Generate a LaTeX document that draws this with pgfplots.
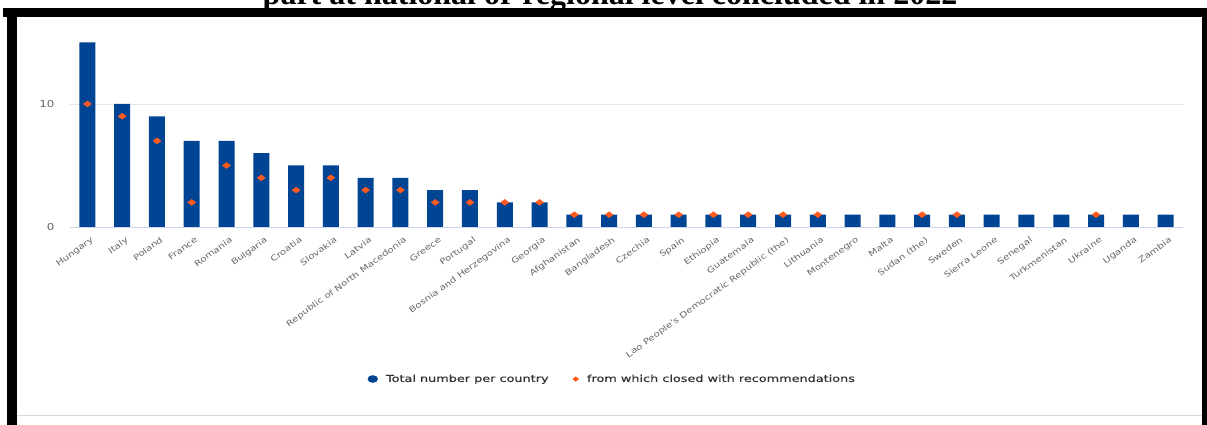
\documentclass[border=0pt]{standalone}
\usepackage{fontspec}
\setmainfont{DejaVu Sans}
\newfontfamily\titlefont{Liberation Serif}
\newfontfamily\widefont[FakeStretch=1.25]{DejaVu Sans}
\newfontfamily\legfont[FakeStretch=1.35,FakeBold=0.6]{DejaVu Sans}
\usepackage{pgfplots}
\usepackage{pgfplotstable}
\pgfplotsset{compat=1.18}
\definecolor{barblue}{HTML}{004494}
\definecolor{dotorange}{HTML}{FF5A1F}
\definecolor{gridgray}{HTML}{E6E6E6}
\definecolor{axisline}{HTML}{CCD6EB}
\definecolor{labgray}{HTML}{666666}
\definecolor{legtext}{HTML}{333333}
\pgfplotstableread{
x total closed
0 15 10
1 10 9
2 9 7
3 7 2
4 7 5
5 6 4
6 5 3
7 5 4
8 4 3
9 4 3
10 3 2
11 3 2
12 2 2
13 2 2
14 1 1
15 1 1
16 1 1
17 1 1
18 1 1
19 1 1
20 1 1
21 1 1
22 1 nan
23 1 nan
24 1 1
25 1 1
26 1 nan
27 1 nan
28 1 nan
29 1 1
30 1 nan
31 1 nan
}\datatable
\begin{document}
\begin{tikzpicture}
\useasboundingbox (0pt,0pt) rectangle (1207pt,425pt);
\fill[white] (0pt,0pt) rectangle (1207pt,425pt);
\node[font=\titlefont\bfseries\fontsize{32}{36}\selectfont, anchor=base] at (610pt,420pt) {part at national or regional level concluded in 2022};
\fill[black] (3pt,408pt) rectangle (1207pt,417pt);
\fill[black] (7pt,0pt) rectangle (17pt,417pt);
\fill[black] (1202pt,0pt) rectangle (1207pt,417pt);
\draw[black!15, line width=1pt] (17pt,9pt) -- (1202pt,9pt);
\begin{axis}[
  at={(70pt,198pt)}, anchor=south west,
  scale only axis, width=1113pt, height=187pt,
  xmin=-0.5, xmax=31.5, ymin=0, ymax=15.2,
  axis x line*=bottom, axis y line*=left,
  x axis line style={axisline, line width=0.8pt, -},
  y axis line style={draw=none},
  ytick={0,10}, ymajorgrids, grid style={gridgray, line width=0.8pt},
  major tick length=0pt,
  xtick={0,...,31},
  xticklabels={Hungary,Italy,Poland,France,Romania,Bulgaria,Croatia,Slovakia,Latvia,Republic of North Macedonia,Greece,Portugal,Bosnia and Herzegovina,Georgia,Afghanistan,Bangladesh,Czechia,Spain,Ethiopia,Guatemala,Lao People's Democratic Republic (the),Lithuania,Montenegro,Malta,Sudan (the),Sweden,Sierra Leone,Senegal,Turkmenistan,Ukraine,Uganda,Zambia},
  xticklabel style={rotate=36, anchor=north east, font=\widefont\fontsize{8.1}{9}\selectfont, text=labgray, inner sep=1pt, yshift=-8pt, xshift=-2pt},
  yticklabel style={font=\widefont\fontsize{9.5}{10}\selectfont, text=labgray, xshift=-12pt},
  /pgf/number format/assume math mode=true,
  legend style={at={(0.4872,-0.813)}, anchor=center, draw=none, fill=none, legend columns=2,
    font=\legfont\fontsize{9.5}{12}\selectfont, text=legtext,
    /tikz/every odd column/.append style={column sep=6pt},
    /tikz/every even column/.append style={column sep=22pt}},
  legend cell align=left,
]
\addplot[ybar, bar width=16pt, fill=barblue, draw=none,
  legend image code/.code={\fill[barblue] (0.2cm,0cm) ellipse [x radius=5.2pt, y radius=3.8pt];}]
  table[x=x, y=total] {\datatable};
\addlegendentry{Total number per country}
\addplot[only marks, mark=diamond*, mark size=4pt, mark options={rotate=90}, color=dotorange,
  legend image code/.code={\fill[dotorange] (0.2cm,0cm) ++(-3pt,0pt) -- ++(3pt,2.3pt) -- ++(3pt,-2.3pt) -- ++(-3pt,-2.3pt) -- cycle;}]
  table[x=x, y=closed] {\datatable};
\addlegendentry{from which closed with recommendations}
\end{axis}
\end{tikzpicture}
\end{document}
